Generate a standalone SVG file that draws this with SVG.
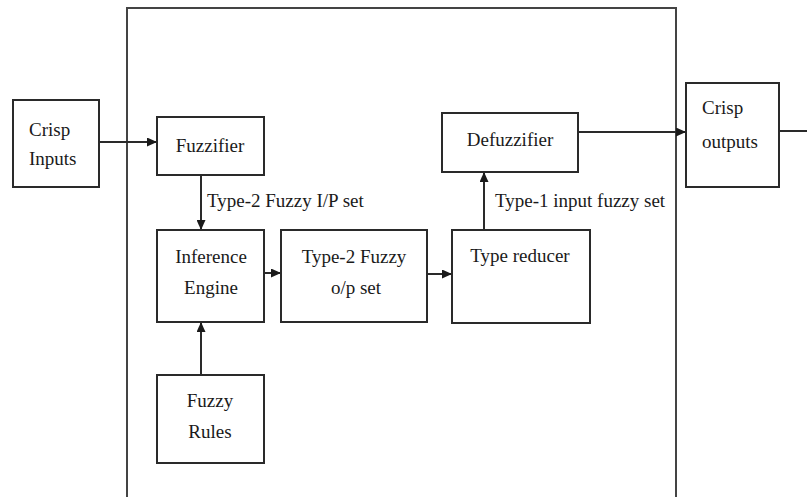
<svg xmlns="http://www.w3.org/2000/svg" width="807" height="497" viewBox="0 0 807 497">
<style>
.box{fill:#fff;stroke:#2a2a2a;stroke-width:2}
.frame{fill:none;stroke:#444;stroke-width:2}
.t{font-family:"Liberation Serif",serif;font-size:19px;fill:#1a1a1a}
.c{text-anchor:middle}
.ln{stroke:#2a2a2a;stroke-width:2;fill:none}
</style>
<defs>
<marker id="ah" markerWidth="10" markerHeight="9" refX="10" refY="4.5" orient="auto" markerUnits="userSpaceOnUse">
<path d="M0,0 L10,4.5 L0,9 Z" fill="#1a1a1a"/>
</marker>
</defs>
<rect width="807" height="497" fill="#fff"/>
<path class="frame" d="M127,500 L127,8 L676,8 L676,500"/>
<g id="connectors">
<line class="ln" x1="99" y1="142" x2="157" y2="142" marker-end="url(#ah)"/>
<line class="ln" x1="201" y1="175" x2="201" y2="230" marker-end="url(#ah)"/>
<line class="ln" x1="201" y1="375" x2="201" y2="322" marker-end="url(#ah)"/>
<line class="ln" x1="264" y1="273" x2="281" y2="273" marker-end="url(#ah)"/>
<line class="ln" x1="427" y1="274" x2="452" y2="274" marker-end="url(#ah)"/>
<line class="ln" x1="484" y1="230" x2="484" y2="172" marker-end="url(#ah)"/>
<line class="ln" x1="578" y1="132" x2="686" y2="132" marker-end="url(#ah)"/>
<line class="ln" x1="779" y1="131" x2="807" y2="131"/>
<text class="t" x="207" y="207">Type-2 Fuzzy I/P set</text>
<text class="t" x="495" y="207">Type-1 input fuzzy set</text>
</g>
<g id="crisp-inputs">
<rect class="box" x="13" y="100" width="86" height="87"/>
<text class="t" x="29" y="136">Crisp</text>
<text class="t" x="29" y="165">Inputs</text>
</g>
<g id="fuzzifier">
<rect class="box" x="157" y="117" width="107" height="58"/>
<text class="t c" x="210" y="152">Fuzzifier</text>
</g>
<g id="inference-engine">
<rect class="box" x="157" y="230" width="107" height="92"/>
<text class="t c" x="211" y="263">Inference</text>
<text class="t c" x="211" y="294">Engine</text>
</g>
<g id="type2-op-set">
<rect class="box" x="281" y="230" width="146" height="92"/>
<text class="t c" x="354" y="263">Type-2 Fuzzy</text>
<text class="t c" x="356" y="294">o/p set</text>
</g>
<g id="type-reducer">
<rect class="box" x="452" y="230" width="138" height="93"/>
<text class="t c" x="520" y="262">Type reducer</text>
</g>
<g id="defuzzifier">
<rect class="box" x="442" y="113" width="136" height="59"/>
<text class="t c" x="510" y="146">Defuzzifier</text>
</g>
<g id="fuzzy-rules">
<rect class="box" x="157" y="375" width="107" height="88"/>
<text class="t c" x="210" y="407">Fuzzy</text>
<text class="t c" x="210" y="438">Rules</text>
</g>
<g id="crisp-outputs">
<rect class="box" x="686" y="83" width="93" height="104"/>
<text class="t" x="702" y="114">Crisp</text>
<text class="t" x="702" y="148">outputs</text>
</g>
</svg>
